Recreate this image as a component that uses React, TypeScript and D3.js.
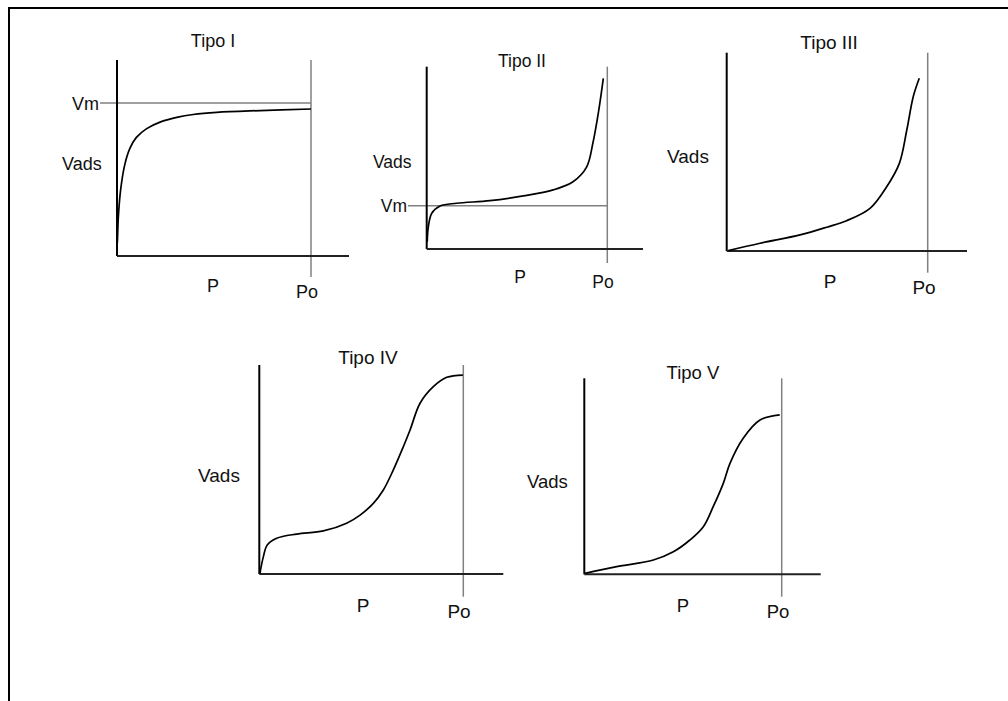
import * as d3 from "d3";

// isotherm curves, P relative to Po (0..1), Vads relative to axis height (0..1)
const tipoI: [number, number][] = [
  [0.0, 0.05], [0.002, 0.075], [0.007, 0.2], [0.019, 0.34], [0.041, 0.47], [0.067, 0.55],
  [0.1, 0.605], [0.153, 0.65], [0.222, 0.683], [0.308, 0.707], [0.393, 0.722],
  [0.514, 0.733], [0.737, 0.742], [1.0, 0.75],
];
const tipoII: [number, number][] = [
  [0.003, 0.04], [0.009, 0.122], [0.028, 0.196], [0.074, 0.236], [0.166, 0.251],
  [0.35, 0.265], [0.535, 0.291], [0.7, 0.324], [0.81, 0.369], [0.886, 0.451],
  [0.92, 0.58], [0.95, 0.744], [0.978, 0.936],
];
const tipoIII: [number, number][] = [
  [0.008, 0.002], [0.166, 0.039], [0.365, 0.081], [0.498, 0.12], [0.597, 0.153],
  [0.713, 0.215], [0.796, 0.324], [0.859, 0.442], [0.896, 0.61], [0.928, 0.778],
  [0.958, 0.871],
];
const tipoIV: [number, number][] = [
  [0.003, 0.003], [0.02, 0.083], [0.039, 0.139], [0.085, 0.171], [0.183, 0.191],
  [0.314, 0.206], [0.428, 0.243], [0.494, 0.282], [0.559, 0.338], [0.608, 0.402],
  [0.657, 0.498], [0.706, 0.609], [0.739, 0.689], [0.788, 0.817], [0.853, 0.896],
  [0.919, 0.941], [0.998, 0.952],
];
const tipoV: [number, number][] = [
  [0.004, 0.005], [0.164, 0.039], [0.35, 0.073], [0.451, 0.115], [0.535, 0.175],
  [0.603, 0.243], [0.653, 0.345], [0.704, 0.464], [0.738, 0.566], [0.805, 0.694],
  [0.89, 0.787], [0.99, 0.813],
];
// monolayer level (Vm) where drawn
const vmTipoI = 0.78;
const vmTipoII = 0.2375;

const titles = ["Tipo I", "Tipo II", "Tipo III", "Tipo IV", "Tipo V"];

interface Panel {
  title: string;
  data: [number, number][];
  vm?: number;
  // frame in pixels
  x0: number; xPo: number; xEnd: number; yBase: number; yTop: number; poBottom: number;
  vmLeft?: number;
  fs: number;
  titleAt: [number, number];
  vadsAt: [number, number];
  pAt: [number, number];
  poAt: [number, number];
}

const panels: Panel[] = [
  {
    title: titles[0], data: tipoI, vm: vmTipoI,
    x0: 117, xPo: 311, xEnd: 349, yBase: 256, yTop: 60, poBottom: 277, vmLeft: 100,
    fs: 18, titleAt: [213, 47], vadsAt: [62, 170], pAt: [213, 292], poAt: [307, 298],
  },
  {
    title: titles[1], data: tipoII, vm: vmTipoII,
    x0: 426.7, xPo: 607.3, xEnd: 643, yBase: 249, yTop: 66.7, poBottom: 263, vmLeft: 408,
    fs: 17.5, titleAt: [522, 67], vadsAt: [373, 168], pAt: [520, 283], poAt: [603, 288],
  },
  {
    title: titles[2], data: tipoIII,
    x0: 726.7, xPo: 927.7, xEnd: 967, yBase: 251, yTop: 52.7, poBottom: 272.7,
    fs: 19, titleAt: [829, 49], vadsAt: [667, 163], pAt: [830, 288], poAt: [924, 294],
  },
  {
    title: titles[3], data: tipoIV,
    x0: 259.3, xPo: 463.3, xEnd: 503.3, yBase: 574, yTop: 365, poBottom: 596.7,
    fs: 19, titleAt: [368, 364], vadsAt: [198, 482], pAt: [363, 612], poAt: [459, 618],
  },
  {
    title: titles[4], data: tipoV,
    x0: 584.3, xPo: 781.7, xEnd: 820.7, yBase: 574.3, yTop: 378.3, poBottom: 596.7,
    fs: 18.5, titleAt: [693, 379], vadsAt: [527, 488], pAt: [683, 612], poAt: [778, 618],
  },
];

const FONT = "'Liberation Sans', Arial, sans-serif";

function Isotherm({ p }: { p: Panel }) {
  const x = d3.scaleLinear().domain([0, 1]).range([p.x0, p.xPo]);
  const y = d3.scaleLinear().domain([0, 1]).range([p.yBase, p.yTop]);
  const line = d3
    .line<[number, number]>()
    .x((d) => x(d[0]))
    .y((d) => y(d[1]))
    .curve(d3.curveCatmullRom.alpha(0.5));

  return (
    <g fontFamily={FONT} fontSize={p.fs} fill="#111">
      <text x={p.titleAt[0]} y={p.titleAt[1]} textAnchor="middle">{p.title}</text>
      <text x={p.vadsAt[0]} y={p.vadsAt[1]}>Vads</text>
      <text x={p.pAt[0]} y={p.pAt[1]} textAnchor="middle">P</text>
      <text x={p.poAt[0]} y={p.poAt[1]} textAnchor="middle">Po</text>

      {/* Po reference */}
      <line x1={x(1)} x2={x(1)} y1={y(1)} y2={p.poBottom} stroke="#808080" strokeWidth={1.5} />
      {p.vm !== undefined && (
        <g>
          <line x1={p.vmLeft} x2={x(1)} y1={y(p.vm)} y2={y(p.vm)} stroke="#808080" strokeWidth={1.5} />
          <text x={(p.vmLeft ?? 0) - 1} y={y(p.vm) + p.fs * 0.36} textAnchor="end">Vm</text>
        </g>
      )}

      {/* axes */}
      <line x1={x(0)} x2={x(0)} y1={y(1)} y2={y(0)} stroke="#000" strokeWidth={2} />
      <line x1={x(0)} x2={p.xEnd} y1={y(0)} y2={y(0)} stroke="#222" strokeWidth={2} />

      <path d={line(p.data) ?? ""} fill="none" stroke="#000" strokeWidth={1.7} />
    </g>
  );
}

export default function App() {
  return (
    <svg
      width={1008}
      height={701}
      style={{ position: "absolute", left: 0, top: 0, background: "#fff" }}
    >
      <rect x={0} y={0} width={1008} height={701} fill="#fff" />
      {/* frame */}
      <line x1={8} x2={1008} y1={8} y2={8} stroke="#000" strokeWidth={2} />
      <line x1={9} x2={9} y1={7} y2={701} stroke="#000" strokeWidth={2} />
      {panels.map((p) => (
        <Isotherm key={p.title} p={p} />
      ))}
    </svg>
  );
}
